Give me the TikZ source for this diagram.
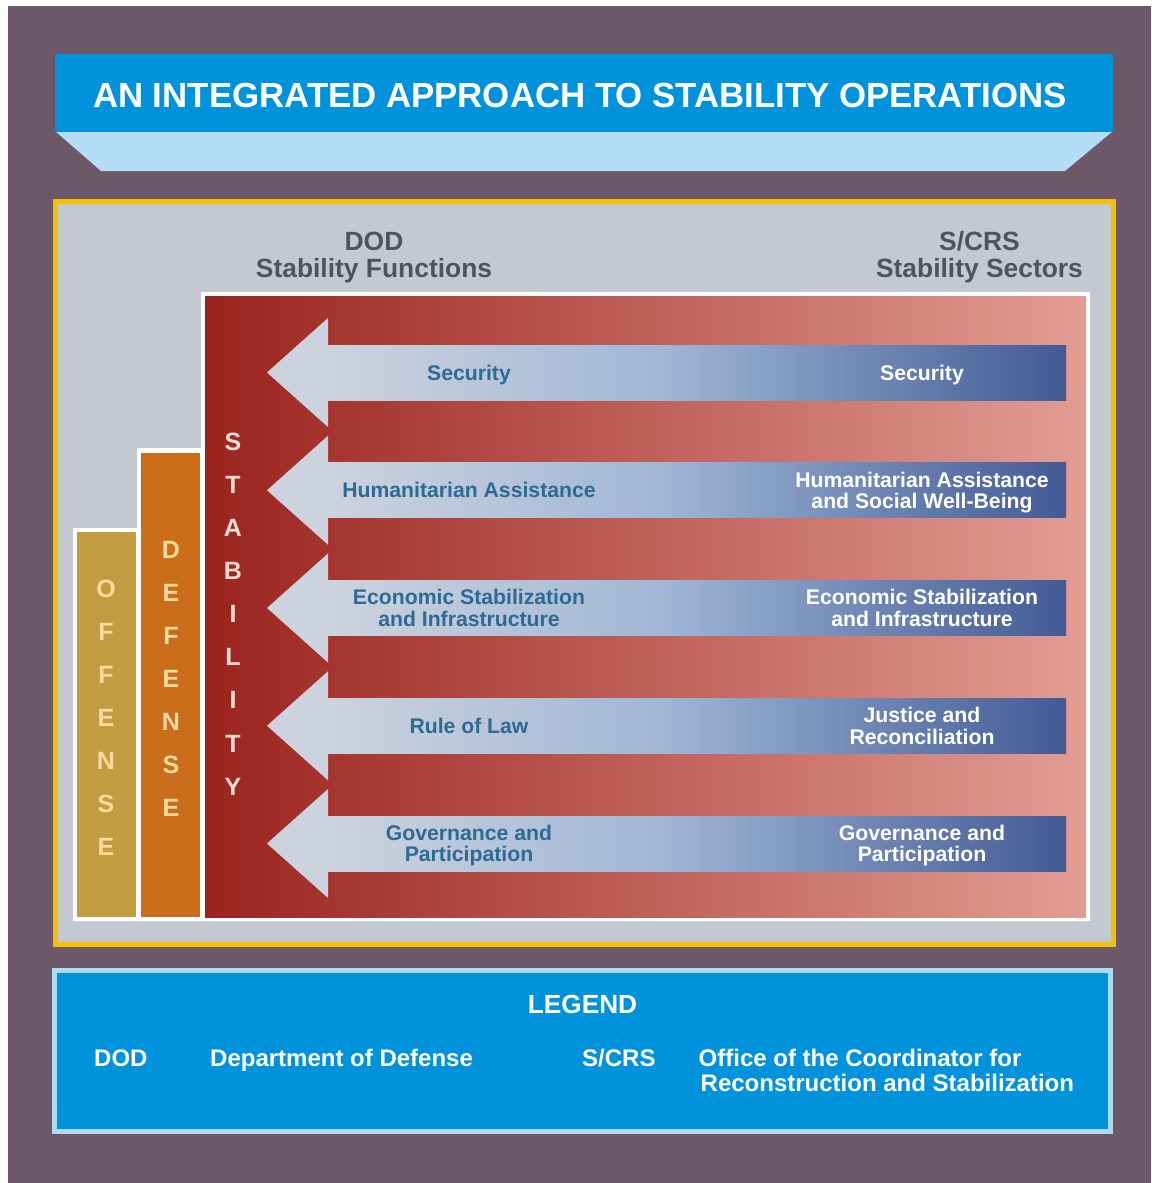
\documentclass[tikz,border=0pt]{standalone}
\usepackage{fontspec}
\setmainfont{Liberation Sans}
\definecolor{bgpurple}{HTML}{6C5869}
\definecolor{titleblue}{HTML}{0093DC}
\definecolor{paleblue}{HTML}{B3DEF6}
\definecolor{goldframe}{HTML}{F5C000}
\definecolor{panelgray}{HTML}{C4C9D1}
\definecolor{headgray}{HTML}{4E5361}
\definecolor{redL}{HTML}{9B231E}
\definecolor{redR}{HTML}{E29D93}
\definecolor{orangecol}{HTML}{CB6E1C}
\definecolor{goldcol}{HTML}{C39C42}
\definecolor{peach}{HTML}{F9DAA0}
\definecolor{pinktext}{HTML}{F8DCD4}
\definecolor{arrA}{HTML}{CDD3DE}
\definecolor{arrB}{HTML}{A0B7D6}
\definecolor{arrC}{HTML}{435A96}
\definecolor{labelblue}{HTML}{2D6A94}
\definecolor{legborder}{HTML}{ADDAF5}
\tikzset{
  titletext/.style={font=\fontsize{34.8}{40}\selectfont\bfseries, text=white, inner sep=0pt, anchor=base},
  headtext/.style={font=\fontsize{26.4}{27}\selectfont\bfseries, text=headgray, align=center, inner sep=0pt, anchor=base},
  lbl/.style={font=\fontsize{21.2}{21.3}\selectfont\bfseries, align=center, inner sep=0pt, anchor=base},
  dodlbl/.style={lbl, text=labelblue},
  crslbl/.style={lbl, text=white},
  vertword/.style={font=\fontsize{25}{43.15}\selectfont\bfseries, align=center, inner sep=0pt, anchor=base},
  legtext/.style={font=\fontsize{24}{25}\selectfont\bfseries, text=white, inner sep=0pt, anchor=base west, align=left},
  arrowhead/.style={fill=arrA},
}
\begin{document}
\begin{tikzpicture}[x=1pt,y=-1pt]
\useasboundingbox (0,0) rectangle (1151,1183);
\fill[white] (0,0) rectangle (1151,1183);
\fill[bgpurple] (8,6) rectangle (1151,1183);
% title banner
\fill[paleblue] (55,131) -- (1113,131) -- (1065,171) -- (101,171) -- cycle;
\fill[titleblue] (55,54) rectangle (1113,132);
\node[titletext] (title) at (580,107) {AN INTEGRATED APPROACH TO STABILITY OPERATIONS};
% panel
\fill[goldframe] (53,199) rectangle (1116,947);
\fill[panelgray] (58,204) rectangle (1111,942);
\node[headtext] (dodhead) at (374,277) {DOD\\Stability Functions};
\node[headtext] (crshead) at (979.5,277) {S/CRS\\Stability Sectors};
% columns
\fill[white] (73,921) -- (73,528) -- (137,528) -- (137,448) -- (201,448) -- (201,292) -- (1090,292) -- (1090,921) -- cycle;
\fill[goldcol] (77,532) rectangle (136,917);
\fill[orangecol] (141,453) rectangle (200,917);
\shade[left color=redL, right color=redR] (205,296) rectangle (1086,917);
\node[vertword, text=peach] (offense) at (106,855.9) {O\\F\\F\\E\\N\\S\\E};
\node[vertword, text=peach] (defense) at (171,816.9) {D\\E\\F\\E\\N\\S\\E};
\node[vertword, text=pinktext] (stability) at (233,795.2) {S\\T\\A\\B\\I\\L\\I\\T\\Y};
% arrows
\foreach \c in {372.5,490.25,608,725.75,843.5}{
  \shade[left color=arrA, right color=arrB] (326,{\c-27.5}) rectangle (661,{\c+27.5});
  \shade[left color=arrB, right color=arrC] (660,{\c-27.5}) rectangle (1066,{\c+27.5});
  \fill[arrowhead] (267,\c) -- (328,{\c-54.5}) -- (328,{\c+54.5}) -- cycle;
}
% labels
\node[dodlbl] (d1) at (469,380.1) {Security};
\node[crslbl] (s1) at (922,380.1) {Security};
\node[dodlbl] (d2) at (469,497.85) {Humanitarian Assistance};
\node[crslbl] (s2) at (922,508.5) {Humanitarian Assistance\\and Social Well-Being};
\node[dodlbl] (d3) at (469,626.25) {Economic Stabilization\\and Infrastructure};
\node[crslbl] (s3) at (922,626.25) {Economic Stabilization\\and Infrastructure};
\node[dodlbl] (d4) at (469,733.35) {Rule of Law};
\node[crslbl] (s4) at (922,744) {Justice and\\Reconciliation};
\node[dodlbl] (d5) at (469,861.75) {Governance and\\Participation};
\node[crslbl] (s5) at (922,861.75) {Governance and\\Participation};
% legend
\fill[legborder] (52,968) rectangle (1113,1134);
\fill[titleblue] (57,973) rectangle (1108,1129);
\node[font=\fontsize{26.2}{27}\selectfont\bfseries, text=white, inner sep=0pt, anchor=base] (legend) at (582.5,1013) {LEGEND};
\node[legtext] (ldod) at (94,1066) {DOD};
\node[legtext] (ldodtxt) at (210,1066) {Department of Defense};
\node[legtext] (lcrs) at (582,1066) {S/CRS};
\node[legtext] (lcrstxt) at (698.5,1091) {Office of the Coordinator for\\\hspace*{2pt}Reconstruction and Stabilization};
\end{tikzpicture}
\end{document}
